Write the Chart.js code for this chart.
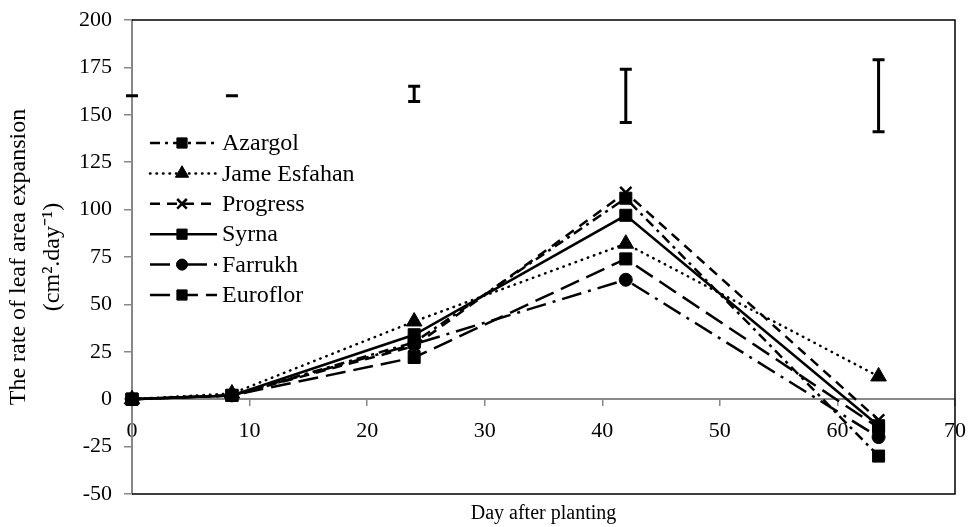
<!DOCTYPE html>
<html>
<head>
<meta charset="utf-8">
<script src="https://cdn.jsdelivr.net/npm/chart.js@4.4.0/dist/chart.umd.min.js"></script>
<style>
  html, body { margin: 0; padding: 0; background: #fff; }
  #wrap { width: 971px; height: 527px; }
</style>
</head>
<body>
<div id="wrap"><canvas id="leafChart" width="971" height="527"></canvas></div>
<script>
// days after planting (x positions of the sampling dates)
const days = [0, 8.5, 24, 42, 63.5];
const varieties = ['Azargol', 'Jame Esfahan', 'Progress', 'Syrna', 'Farrukh', 'Euroflor'];

// rate of leaf area expansion, cm2/day
const azargol     = [0, 2, 30, 106, -30];
const jameEsfahan = [0, 3, 41, 82, 12];
const progress    = [0, 2, 28, 109, -11];
const syrna       = [0, 2, 34, 97, -14];
const farrukh     = [0, 2, 29, 63, -20];
const euroflor    = [0, 2, 22, 74, -15];

// LSD bars drawn above the lines
const lsdLow  = [160, 160, 157, 146, 141];
const lsdHigh = [160, 160, 165, 174, 179];

const serif = '"Liberation Serif", "Times New Roman", serif';
const seriesValues = [azargol, jameEsfahan, progress, syrna, farrukh, euroflor];
const seriesStyles = [
  { dash: [10, 5, 3, 5], point: 'rect', radius: 8.5 },
  { dash: [0.5, 6], point: 'triangle', radius: 9, cap: 'round' },
  { dash: [10, 7], point: 'crossRot', radius: 8 },
  { dash: [], point: 'rect', radius: 8.5 },
  { dash: [20, 7, 3, 7], point: 'circle', radius: 6.5 },
  { dash: [20, 8], point: 'rect', radius: 8.5 }
];

const datasets = varieties.map((name, i) => ({
  label: name,
  data: days.map((d, j) => ({ x: d, y: seriesValues[i][j] })),
  borderColor: '#000',
  backgroundColor: '#000',
  borderWidth: 2.5,
  borderDash: seriesStyles[i].dash,
  borderCapStyle: seriesStyles[i].cap || 'butt',
  pointStyle: seriesStyles[i].point,
  pointRadius: seriesStyles[i].radius,
  pointBorderWidth: seriesStyles[i].point === 'crossRot' ? 2.5 : 1,
  pointBorderColor: '#000',
  pointBackgroundColor: '#000',
  tension: 0,
  clip: false
}));

// legend drawn inside the plot, line + marker + name
const insideLegend = {
  id: 'insideLegend',
  afterDatasetsDraw(chart) {
    const { ctx, chartArea } = chart;
    const x0 = chartArea.left + 18, x1 = chartArea.left + 85, mx = chartArea.left + 50;
    ctx.save();
    chart.data.datasets.forEach((ds, i) => {
      const y = chartArea.top + 123 + i * 30.4;
      ctx.strokeStyle = '#000';
      ctx.fillStyle = '#000';
      ctx.lineWidth = ds.borderWidth;
      ctx.lineCap = ds.borderCapStyle;
      ctx.setLineDash(ds.borderDash);
      ctx.beginPath();
      ctx.moveTo(x0, y);
      ctx.lineTo(x1, y);
      ctx.stroke();
      ctx.setLineDash([]);
      ctx.lineCap = 'butt';
      ctx.lineWidth = ds.pointBorderWidth;
      Chart.helpers.drawPoint(ctx, {
        pointStyle: ds.pointStyle,
        radius: ds.pointRadius * 0.85,
        rotation: 0,
        borderWidth: ds.pointBorderWidth
      }, mx, y);
      ctx.font = '24px ' + serif;
      ctx.textBaseline = 'middle';
      ctx.textAlign = 'left';
      ctx.fillText(ds.label, chartArea.left + 90, y + 1);
    });
    ctx.restore();
  }
};

const lsdBars = {
  id: 'lsdBars',
  afterDatasetsDraw(chart) {
    const { ctx, scales: { x, y } } = chart;
    ctx.save();
    ctx.strokeStyle = '#000';
    ctx.lineWidth = 3;
    ctx.setLineDash([]);
    days.forEach((d, i) => {
      const px = x.getPixelForValue(d);
      const top = y.getPixelForValue(lsdHigh[i]);
      const bot = y.getPixelForValue(lsdLow[i]);
      ctx.beginPath();
      ctx.moveTo(px, top); ctx.lineTo(px, bot);
      ctx.moveTo(px - 6, top); ctx.lineTo(px + 6, top);
      ctx.moveTo(px - 6, bot); ctx.lineTo(px + 6, bot);
      ctx.stroke();
    });
    ctx.restore();
  }
};

// black frame on top, right and bottom
const plotFrame = {
  id: 'plotFrame',
  afterDraw(chart) {
    const { ctx, chartArea: a } = chart;
    ctx.save();
    ctx.strokeStyle = '#000';
    ctx.lineWidth = 1.5;
    ctx.beginPath();
    ctx.moveTo(a.left, a.top);
    ctx.lineTo(a.right, a.top);
    ctx.lineTo(a.right, a.bottom);
    ctx.lineTo(a.left, a.bottom);
    ctx.stroke();
    ctx.restore();
  }
};

const ctx = document.getElementById('leafChart').getContext('2d');
const leafChart = new Chart(ctx, {
  type: 'line',
  data: { datasets: datasets },
  options: {
    responsive: false,
    animation: false,
    layout: { padding: { top: 20, right: 16, bottom: 0, left: 0 } },
    plugins: {
      legend: { display: false },
      tooltip: { enabled: false },
      title: {
        display: true,
        position: 'bottom',
        fullSize: false,
        text: 'Day after planting',
        color: '#000',
        font: { family: serif, size: 20, weight: 'normal' },
        padding: { top: 8, bottom: 1 }
      }
    },
    scales: {
      x: {
        type: 'linear',
        position: { y: 0 },
        min: 0,
        max: 70,
        ticks: { stepSize: 10, color: '#000', font: { family: serif, size: 22 }, padding: 13, maxRotation: 0 },
        grid: { drawOnChartArea: false, tickLength: 6, color: '#888', lineWidth: 1.5 },
        border: { color: '#888', width: 2 },
        afterFit(scale) { scale.paddingLeft = 0; scale.paddingRight = 0; }
      },
      y: {
        min: -50,
        max: 200,
        ticks: { stepSize: 25, color: '#000', font: { family: serif, size: 22 }, padding: 12 },
        grid: { drawOnChartArea: false, tickLength: 8, color: '#888', lineWidth: 1.5 },
        border: { color: '#888', width: 2 },
        title: {
          display: true,
          text: ['The rate of leaf area expansion', '(cm\u00b2.day\u207b\u00b9)'],
          color: '#000',
          font: { family: serif, size: 24, lineHeight: 1.45 },
          padding: { top: 1, bottom: 0 }
        },
        afterFit(scale) {
          scale.width = 132;
          scale.paddingTop = 0;
          scale.paddingBottom = 0;
        }
      }
    }
  },
  plugins: [lsdBars, insideLegend, plotFrame]
});
</script>
</body>
</html>
